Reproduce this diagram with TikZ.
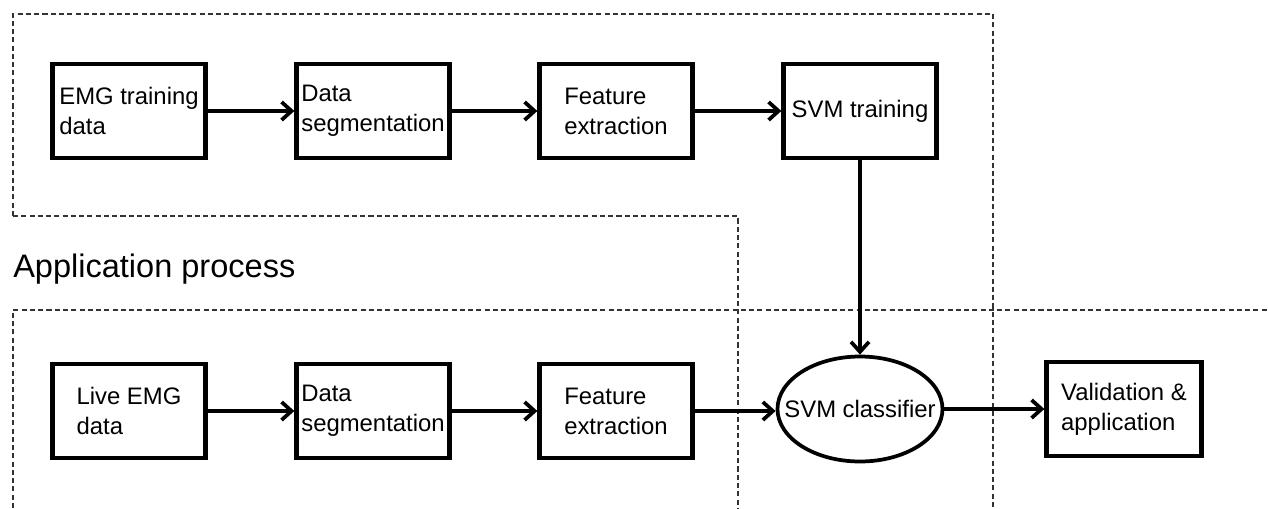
\documentclass[tikz,border=0pt]{standalone}
\usepackage{fontspec}
\setmainfont{Liberation Sans}
\usetikzlibrary{arrows.meta,shapes.geometric}
\newcommand\blkfont{\fontsize{17.9pt}{22.5pt}\selectfont}
\newcommand\headfont{\fontsize{24.4pt}{28pt}\selectfont}
\begin{document}
\begin{tikzpicture}[x=0.75pt,y=-0.75pt,
  blk/.style={draw, rectangle, line width=3.2pt, minimum width=153*0.75pt,
    minimum height=94*0.75pt, inner sep=0pt, align=left, font=\blkfont},
  ell/.style={draw, ellipse, line width=2.8pt, minimum width=165*0.75pt,
    minimum height=105*0.75pt, inner sep=0pt, font=\blkfont},
  arr/.style={line width=2.8pt, -{Straight Barb[length=7.5pt,width=13.5pt]}},
  region/.style={black!80, line width=0.85pt, dash pattern=on 3.8pt off 2.4pt}]
  \useasboundingbox (0,0) rectangle (1268,508);
  \fill[white] (0,0) rectangle (1268,508);

  % dashed outlines of the two processes
  \draw[region] (13,216) -- (13,14) -- (993,14) -- (993,508);
  \draw[region] (13,216) -- (738,216) -- (738,508);
  \draw[region] (13,508) -- (13,310) -- (1268,310);

  \node[anchor=base west, inner sep=0pt, font=\headfont] (apptitle) at (13,277) {Application process};

  % training chain
  \node[blk] (emg)   at (129,111) {EMG training\\data};
  \node[blk] (seg1)  at (373,111) {Data\\segmentation};
  \node[blk] (feat1) at (616,111) {Feature\\extraction};
  \node[blk] (svmt)  at (860,111) {SVM training};

  % application chain
  \node[blk] (live)  at (129,411) {Live EMG\\data};
  \node[blk] (seg2)  at (373,411) {Data\\segmentation};
  \node[blk] (feat2) at (616,411) {Feature\\extraction};
  \node[ell] (svmc)  at (860,409) {\makebox[0pt]{SVM classifier}};
  \node[blk, minimum width=155*0.75pt] (val) at (1124,409) {Validation \&\\application};

  \draw[arr] (emg) -- (seg1);
  \draw[arr] (seg1) -- (feat1);
  \draw[arr] (feat1) -- (svmt);
  \draw[arr] (svmt) -- (svmc);
  \draw[arr] (live) -- (seg2);
  \draw[arr] (seg2) -- (feat2);
  \draw[arr] (feat2.east) -- (svmc.west |- feat2.east);
  \draw[arr] (svmc) -- (val);
\end{tikzpicture}
\end{document}
